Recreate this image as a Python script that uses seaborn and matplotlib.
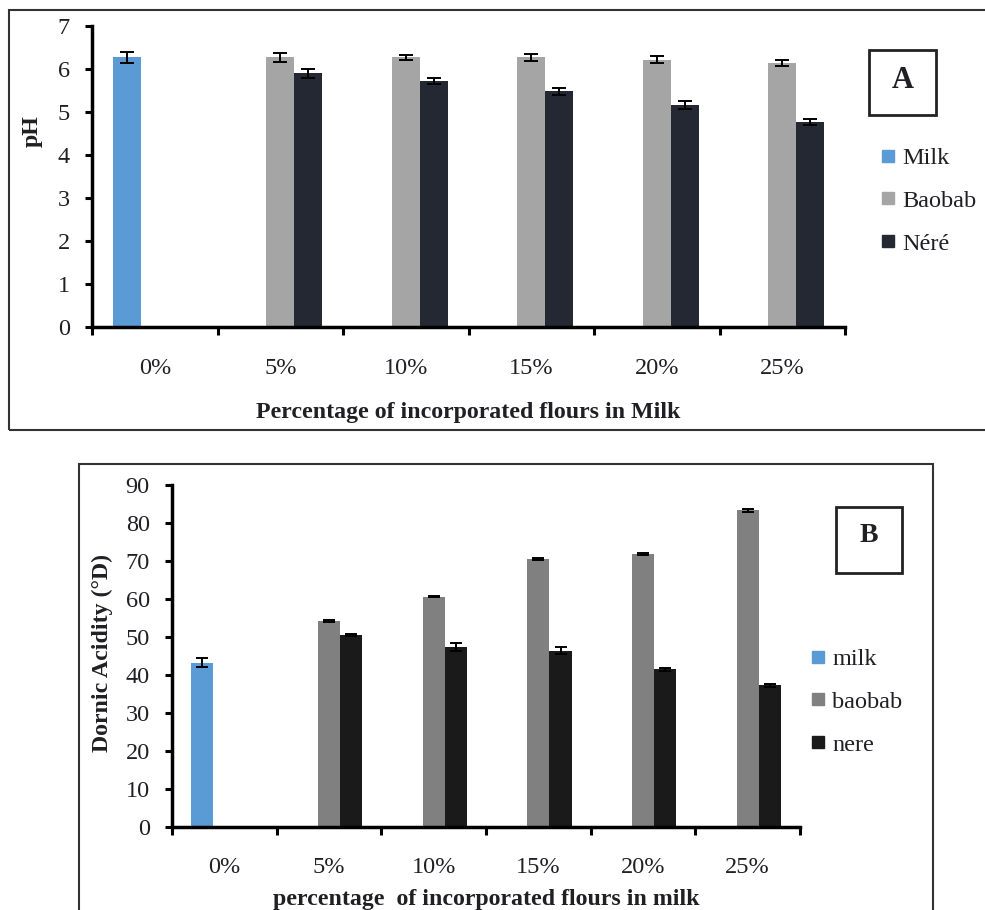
import numpy as np
import pandas as pd
import matplotlib
matplotlib.use("Agg")
import matplotlib.pyplot as plt
from matplotlib.patches import Rectangle
from matplotlib.lines import Line2D
import seaborn as sns

# ---------------- data ----------------
categories = ['0%', '5%', '10%', '15%', '20%', '25%']

series_A = ['Milk', 'Baobab', 'Néré']
ph_milk = [6.27, None, None, None, None, None]
ph_baobab = [None, 6.27, 6.27, 6.27, 6.22, 6.13]
ph_nere = [None, 5.90, 5.72, 5.48, 5.16, 4.77]
ph_milk_err = [0.13, None, None, None, None, None]
ph_baobab_err = [None, 0.10, 0.05, 0.08, 0.08, 0.07]
ph_nere_err = [None, 0.10, 0.06, 0.08, 0.085, 0.07]

series_B = ['milk', 'baobab', 'nere']
da_milk = [43.2, None, None, None, None, None]
da_baobab = [None, 54.2, 60.6, 70.5, 71.8, 83.3]
da_nere = [None, 50.5, 47.4, 46.4, 41.5, 37.3]
da_milk_err = [1.15, None, None, None, None, None]
da_baobab_err = [None, 0.2, 0.2, 0.2, 0.3, 0.4]
da_nere_err = [None, 0.2, 1.0, 0.9, 0.4, 0.4]

colors_A = ['#5B9BD5', '#A5A5A5', '#232833']
colors_B = ['#5B9BD5', '#808080', '#1A1A1A']


def build(series, vals, errs):
    rows = []
    for s, v, e in zip(series, vals, errs):
        for c, vv, ee in zip(categories, v, e):
            if vv is not None:
                rows.append({'pct': c, 'series': s, 'val': vv, 'err': ee})
    return pd.DataFrame(rows)


dfA = build(series_A, [ph_milk, ph_baobab, ph_nere], [ph_milk_err, ph_baobab_err, ph_nere_err])
dfB = build(series_B, [da_milk, da_baobab, da_nere], [da_milk_err, da_baobab_err, da_nere_err])

# ---------------- style ----------------
sns.set_theme(style='white')
plt.rcParams['font.family'] = ['Liberation Serif', 'DejaVu Serif']
TXT = '#1f1f24'
FS_TICK = 17.5
FS_LAB = 17.2

W, H = 985, 910
fig = plt.figure(figsize=(W / 100, H / 100), dpi=100)


def fx(px):
    return px / W


def fy(py):
    return 1 - py / H


# outer frames
fig.patches.append(Rectangle((fx(9), fy(430)), fx(1000) - fx(9), fy(10) - fy(430),
                             transform=fig.transFigure, fill=False, ec='#333333', lw=1.5))
fig.patches.append(Rectangle((fx(79), fy(930)), fx(933) - fx(79), fy(464) - fy(930),
                             transform=fig.transFigure, fill=False, ec='#333333', lw=1.5))


def panel(ax, df, series, colors, width, ylim, yticks, ylabel, xlabel,
          ylab_x, ylab_y, xlab_y, capsize):
    sns.barplot(data=df, x='pct', y='val', hue='series', order=categories,
                hue_order=series, palette=colors, width=width, dodge=True,
                errorbar=None, saturation=1, linewidth=0, legend=False, ax=ax)
    nh = len(series)
    bw = width / nh
    for p in ax.patches:
        cx = p.get_x() + p.get_width() / 2
        ci = int(round(cx))
        hi = int(round((cx - ci) / bw + (nh - 1) / 2))
        row = df[(df.pct == categories[ci]) & (df.series == series[hi])]
        if len(row):
            ax.errorbar(cx, p.get_height(), yerr=row['err'].iloc[0], fmt='none',
                        ecolor='black', elinewidth=1.4, capsize=capsize, capthick=1.4,
                        zorder=5)
    ax.set_xlim(-0.5, 5.5)
    ax.set_ylim(*ylim)
    ax.set_yticks(yticks)
    ax.set_yticklabels([str(t) for t in yticks], fontsize=FS_TICK, color=TXT)
    ax.set_xticks(range(len(categories)))
    ax.set_xticklabels(categories, fontsize=FS_TICK, color=TXT)
    ax.set_xticks(np.arange(-0.5, 6, 1), minor=True)
    ax.tick_params(axis='x', which='both', bottom=True)
    ax.tick_params(axis='y', which='both', left=True)
    ax.tick_params(axis='x', which='major', length=0, pad=22)
    ax.tick_params(axis='x', which='minor', length=6, width=2.2, color='black', direction='out')
    ax.tick_params(axis='y', which='major', length=5, width=2.2, color='black', direction='out', pad=11)
    for s in ['top', 'right']:
        ax.spines[s].set_visible(False)
    for s in ['left', 'bottom']:
        ax.spines[s].set_linewidth(2.5)
        ax.spines[s].set_color('black')
    ax.set_ylabel(ylabel, fontsize=FS_LAB, fontweight='bold', color=TXT)
    ax.yaxis.set_label_coords(ylab_x, ylab_y)
    ax.set_xlabel(xlabel, fontsize=FS_LAB, fontweight='bold', color=TXT)
    ax.xaxis.set_label_coords(0.5, xlab_y)
    ax.set_facecolor('white')


# ---------------- panel A ----------------
axA = fig.add_axes([fx(92), fy(327), fx(845) - fx(92), fy(26) - fy(327)])
panel(axA, dfA, series_A, colors_A, 0.67, (0, 7), list(range(0, 8)), 'pH',
      'Percentage of incorporated flours in Milk', -0.066, 0.651, -0.25, 4.7)

# ---------------- panel B ----------------
axB = fig.add_axes([fx(172), fy(826.7), fx(800) - fx(172), fy(485) - fy(826.7)])
panel(axB, dfB, series_B, colors_B, 0.64, (0, 90), list(range(0, 91, 10)), 'Dornic Acidity (°D)',
      'percentage  of incorporated flours in milk', -0.094, 0.509, -0.183, 4.5)


# legends
def legend(series, colors, x, y):
    handles = [Line2D([], [], marker='s', ls='none', color=c, markersize=8) for c in colors]
    fig.legend(handles, series, loc='upper left', bbox_to_anchor=(fx(x), fy(y)),
               frameon=False, fontsize=FS_TICK, handlelength=0.7, handletextpad=0.25,
               labelspacing=0.86, borderpad=0, borderaxespad=0, labelcolor=TXT)


legend(series_A, colors_A, 879, 147)
legend(series_B, colors_B, 809, 648)

# label boxes
fig.patches.append(Rectangle((fx(869), fy(115)), fx(936) - fx(869), fy(50) - fy(115),
                             transform=fig.transFigure, fill=False, ec='#222222', lw=2))
fig.text(fx(902.5), fy(80), 'A', ha='center', va='center', fontsize=22, fontweight='bold', color=TXT)
fig.patches.append(Rectangle((fx(836), fy(573)), fx(902) - fx(836), fy(507) - fy(573),
                             transform=fig.transFigure, fill=False, ec='#222222', lw=2))
fig.text(fx(869), fy(535), 'B', ha='center', va='center', fontsize=20, fontweight='bold', color=TXT)

fig.savefig('out.png', dpi=100, facecolor='white')
